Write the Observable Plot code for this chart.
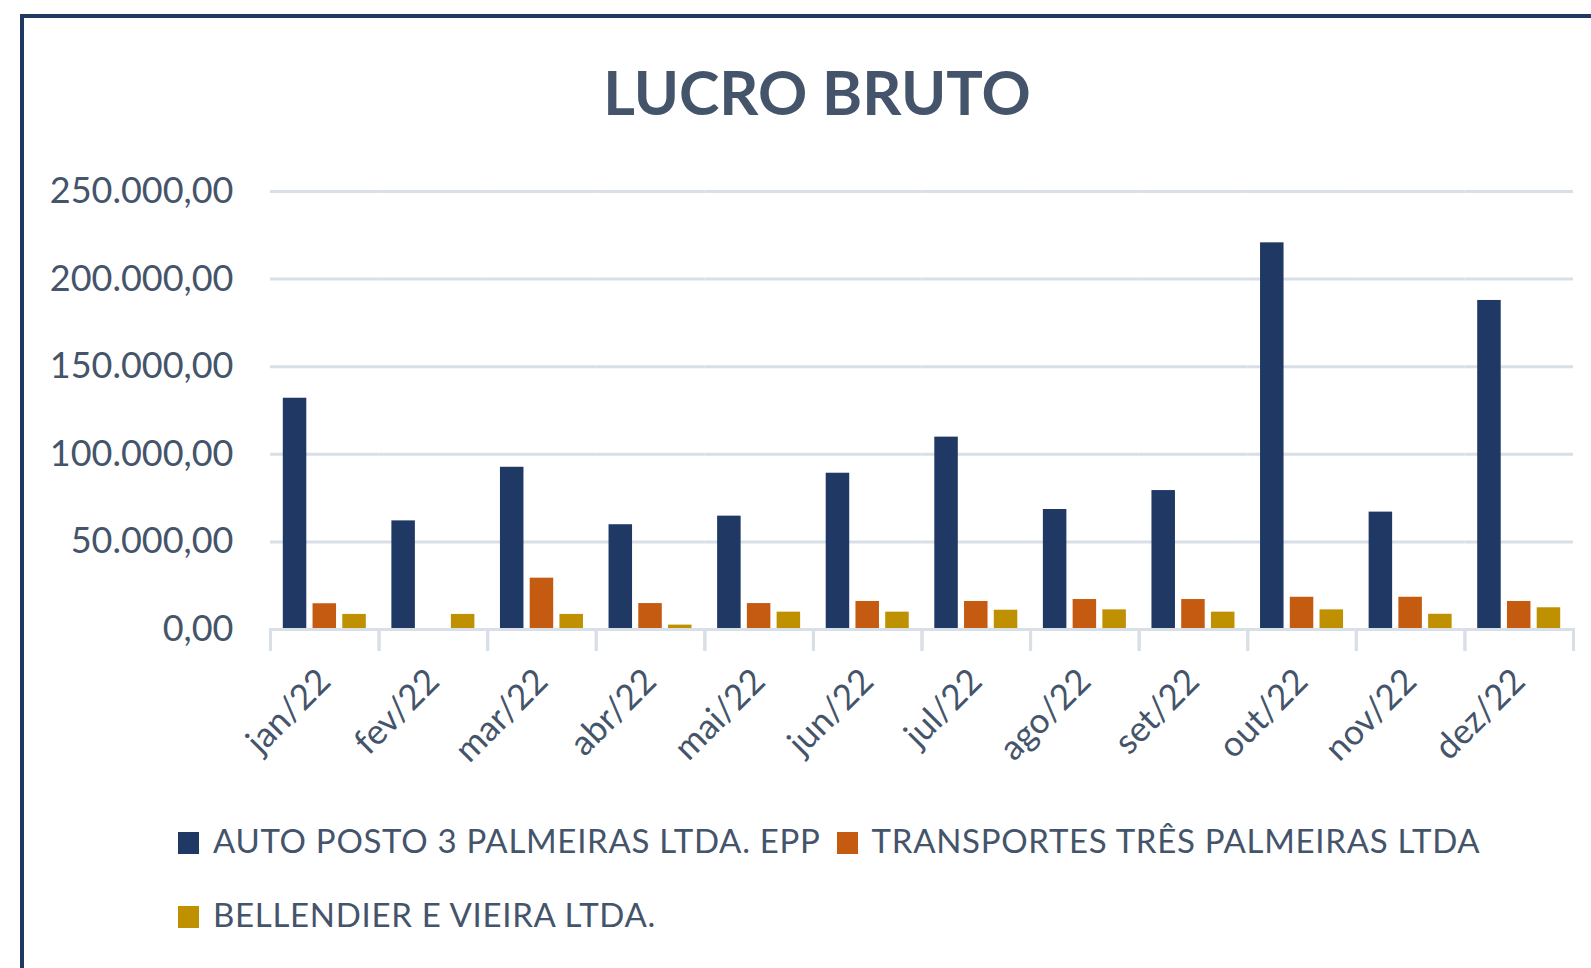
<!DOCTYPE html>
<html>
<head>
<meta charset="utf-8">
<script src="https://cdn.jsdelivr.net/npm/d3@7"></script>
<script src="https://cdn.jsdelivr.net/npm/@observablehq/plot@0.6"></script>
<style>
  html, body { margin: 0; padding: 0; background: #ffffff; overflow: hidden; }
  #page { position: relative; width: 1591px; height: 968px; overflow: hidden; font-family: Lato, "Open Sans", sans-serif; color: #44546A; background: #ffffff; }
  #border { position: absolute; left: 20px; top: 14px; width: 1700px; height: 1100px; border-top: 4px solid #203864; border-left: 4px solid #203864; z-index: 2; pointer-events: none; }
  #title { position: absolute; left: 0; width: 1634px; top: 55px; text-align: center; font-weight: 700; font-size: 61px; line-height: 1.2; color: #44546A; }
  #chart { position: absolute; left: 0; top: 150px; }
  .legend-row { position: absolute; left: 178px; display: flex; align-items: center; font-size: 33px; letter-spacing: 0.7px; line-height: 1.2; color: #44546A; white-space: nowrap; }
  .item { display: flex; align-items: center; margin-right: 16px; }
  .sw { width: 21px; height: 22px; margin-right: 14px; margin-top: 4px; }
</style>
</head>
<body>
<div id="page">
  <div id="border"></div>
  <div id="title">LUCRO BRUTO</div>
  <div id="chart"></div>
  <div class="legend-row" id="row1" style="top: 821px;"></div>
  <div class="legend-row" id="row2" style="top: 895px;"></div>
</div>
<script>
const months = ["jan/22", "fev/22", "mar/22", "abr/22", "mai/22", "jun/22", "jul/22", "ago/22", "set/22", "out/22", "nov/22", "dez/22"];
const series = ["AUTO POSTO 3 PALMEIRAS LTDA. EPP", "TRANSPORTES TRÊS PALMEIRAS LTDA", "BELLENDIER E VIEIRA LTDA."];
const autoPosto   = [132000, 62000, 92600, 59800, 64700, 89200, 109800, 68500, 79300, 220700, 67000, 187800];
const transportes = [14700, 0, 29300, 14800, 14800, 16000, 16000, 17100, 17100, 18400, 18400, 16000];
const bellendier  = [8600, 8600, 8600, 2500, 9900, 9900, 11000, 11200, 9900, 11200, 8700, 12400];
const colors = ["#203864", "#C55A11", "#BF9000"];
const yTicks = [0, 50000, 100000, 150000, 200000, 250000];

const seriesValues = [autoPosto, transportes, bellendier];
const data = months.flatMap((m, i) => series.map((s, j) => ({month: m, series: s, value: seriesValues[j][i]})));

const ptBR = d3.formatLocale({decimal: ",", thousands: ".", grouping: [3], currency: ["R$", ""]});
const fmt = ptBR.format(",.2f");

const gridColor = "#D9DFE7";

const chart = Plot.plot({
  width: 1591,
  height: 640,
  marginTop: 41,
  marginBottom: 161,
  marginLeft: 270,
  marginRight: 18,
  style: {fontFamily: "Lato, 'Open Sans', sans-serif", fontSize: "35px", color: "#44546A", background: "none"},
  fx: {domain: months, padding: 0, round: false, label: null},
  x: {domain: series, paddingInner: 0.21, paddingOuter: 0.43, round: false, axis: null},
  y: {domain: [0, 250000], label: null},
  color: {domain: series, range: colors},
  marks: [
    Plot.gridY(yTicks, {stroke: gridColor, strokeOpacity: 1, strokeWidth: 3}),
    Plot.axisY(yTicks, {tickSize: 0, tickPadding: 37, tickFormat: fmt, label: null, fill: "#44546A", fontSize: 36}),
    Plot.barY(data.filter(d => d.value > 0), {fx: "month", x: "series", y: "value", fill: "series"}),
    Plot.ruleY([0], {stroke: gridColor, strokeWidth: 3}),
    Plot.frame({anchor: "left", stroke: gridColor, strokeOpacity: 1, strokeWidth: 3, insetTop: 438, insetBottom: -20}),
    Plot.frame({anchor: "right", stroke: gridColor, strokeOpacity: 1, strokeWidth: 3, insetTop: 438, insetBottom: -20}),
    Plot.axisFx({anchor: "bottom", tickSize: 0, tickRotate: -45, tickPadding: 46, label: null, fill: "#44546A"})
  ]
});
document.getElementById("chart").appendChild(chart);

function addItem(rowId, i) {
  const item = document.createElement("div");
  item.className = "item";
  const sw = document.createElement("div");
  sw.className = "sw";
  sw.style.background = colors[i];
  const t = document.createElement("span");
  t.textContent = series[i];
  item.appendChild(sw);
  item.appendChild(t);
  document.getElementById(rowId).appendChild(item);
}
addItem("row1", 0);
addItem("row1", 1);
addItem("row2", 2);
</script>
</body>
</html>
